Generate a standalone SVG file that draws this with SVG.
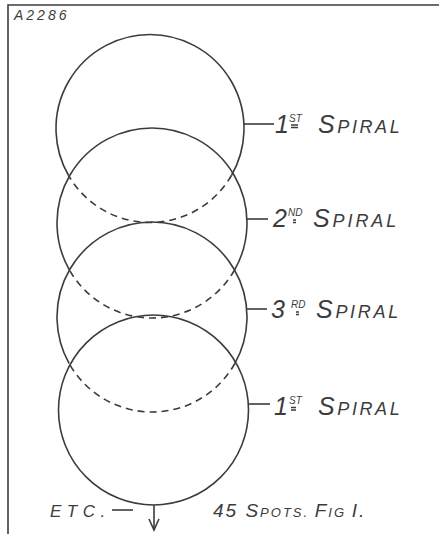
<svg xmlns="http://www.w3.org/2000/svg" width="439" height="534" viewBox="0 0 439 534">
<style>
.ln{stroke:#3c3c3c;stroke-width:1.6;fill:none}
.ds{stroke:#3c3c3c;stroke-width:1.6;fill:none;stroke-dasharray:7 5}
.t{font-family:"Liberation Sans",Arial,sans-serif;font-style:italic;fill:#3c3c3c}
.big{font-size:25px}
.sm{font-size:18px}
.sup{font-size:10px}
</style>
<defs>
<marker id="ah" markerWidth="14" markerHeight="12" refX="12" refY="6" orient="auto" markerUnits="userSpaceOnUse">
<path d="M1 1 L12 6 L1 11" fill="none" stroke="#3c3c3c" stroke-width="1.6"/>
</marker>
</defs>
<rect width="439" height="534" fill="#ffffff"/>
<g id="frame">
<path class="ln" d="M8 534 L8 5 L439 5" stroke-width="2"/>
<text class="t" x="14" y="20" font-size="14" letter-spacing="3">A2286</text>
</g>
<g id="circle1">
<path class="ln" d="M68.59 175.5 A94 94 0 1 1 231.41 175.5"/>
<path class="ds" d="M231.41 175.5 A94 94 0 0 1 68.59 175.5"/>
</g>
<g id="circle2">
<path class="ln" d="M69.44 270 A95 95 0 1 1 234.56 270"/>
<path class="ds" d="M234.56 270 A95 95 0 0 1 69.44 270"/>
</g>
<g id="circle3">
<path class="ln" d="M69.16 363.5 A95 95 0 1 1 234.84 363.5"/>
<path class="ds" d="M234.84 363.5 A95 95 0 0 1 69.16 363.5"/>
</g>
<g id="circle4">
<circle class="ln" cx="153.5" cy="410" r="95"/>
</g>
<g id="connectors">
<line class="ln" x1="244" y1="124" x2="274" y2="124"/>
<line class="ln" x1="247" y1="219" x2="268" y2="219"/>
<line class="ln" x1="247" y1="309" x2="267" y2="309"/>
<line class="ln" x1="249" y1="404" x2="270" y2="404"/>
<line class="ln" x1="154" y1="505" x2="154" y2="530" marker-end="url(#ah)"/>
<line class="ln" x1="112" y1="510" x2="133" y2="510"/>
</g>
<g id="label1">
<text class="t big" x="275" y="133">1</text>
<text class="t sup" x="289" y="122">ST</text>
<path class="ln" d="M291 125 h7 M291 127.5 h7" stroke-width="1"/>
<text class="t" x="318" y="133" letter-spacing="2.6"><tspan class="big">S</tspan><tspan class="sm">PIRAL</tspan></text>
</g>
<g id="label2">
<text class="t big" x="273" y="227">2</text>
<text class="t sup" x="288" y="216">ND</text>
<path class="ln" d="M293 220 h3 M293 222.5 h3" stroke-width="1"/>
<text class="t" x="313" y="227" letter-spacing="2.9"><tspan class="big">S</tspan><tspan class="sm">PIRAL</tspan></text>
</g>
<g id="label3">
<text class="t big" x="271" y="318">3</text>
<text class="t sup" x="291" y="308">RD</text>
<path class="ln" d="M296 312 h3 M296 314.5 h3" stroke-width="1"/>
<text class="t" x="316" y="318" letter-spacing="2.7"><tspan class="big">S</tspan><tspan class="sm">PIRAL</tspan></text>
</g>
<g id="label4">
<text class="t big" x="274" y="415">1</text>
<text class="t sup" x="289" y="404">ST</text>
<path class="ln" d="M291 407.5 h5 M291 410 h5" stroke-width="1"/>
<text class="t" x="318" y="415" letter-spacing="2.6"><tspan class="big">S</tspan><tspan class="sm">PIRAL</tspan></text>
</g>
<g id="caption">
<text class="t" x="50" y="517" font-size="17" letter-spacing="5.5">ETC.</text>
<text class="t" x="213" y="517" letter-spacing="2"><tspan font-size="19">45 S</tspan><tspan font-size="13">POTS. </tspan><tspan font-size="19">F</tspan><tspan font-size="13">IG </tspan><tspan font-size="19">I.</tspan></text>
</g>
</svg>
